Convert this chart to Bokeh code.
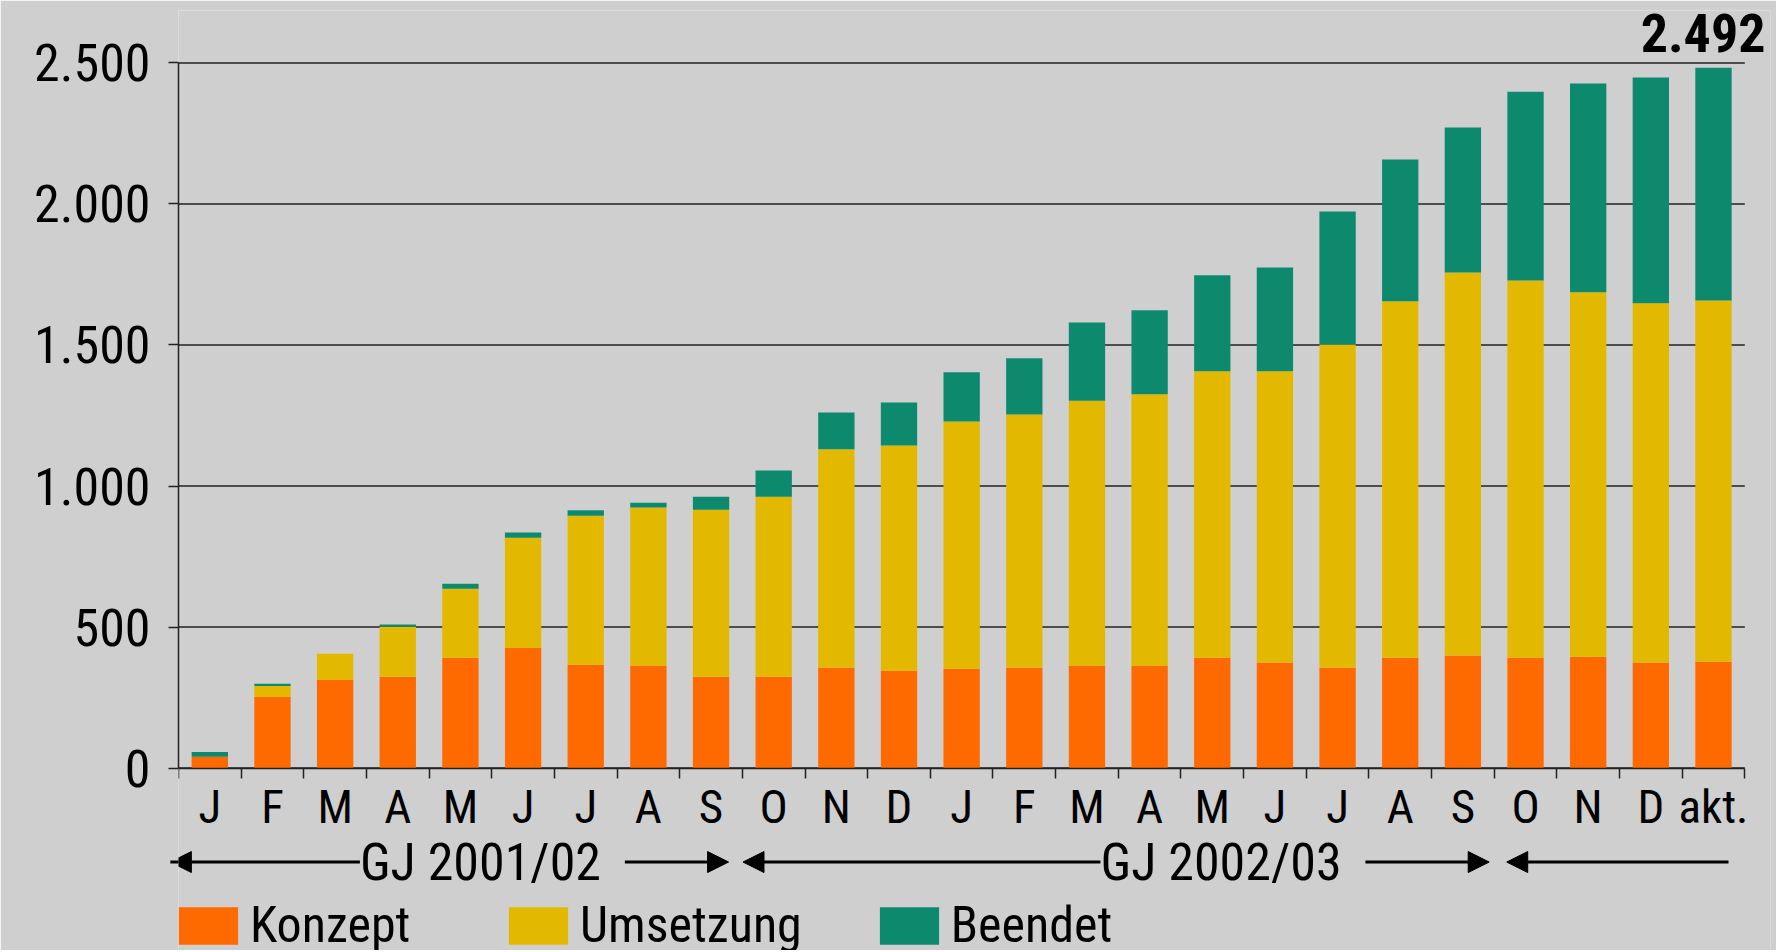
from bokeh.plotting import figure
from bokeh.models import (Range1d, FixedTicker, Label, Arrow, NormalHead,
                          LinearAxis, ColumnDataSource)
from bokeh.embed import file_html
from bokeh.resources import INLINE

# ---------------- data ----------------
months = ["J", "F", "M", "A", "M", "J", "J", "A", "S",
          "O", "N", "D", "J", "F", "M", "A", "M", "J", "J", "A", "S",
          "O", "N", "D", "akt."]
konzept = [40, 252, 312, 324, 391, 426, 366, 362, 324,
           324, 356, 345, 352, 356, 362, 362, 391, 374, 356, 391, 399,
           391, 395, 374, 377]
umsetzung = [0, 39, 93, 177, 245, 391, 529, 562, 592,
             638, 774, 799, 877, 898, 940, 963, 1016, 1033, 1146, 1264, 1358,
             1338, 1292, 1274, 1281]
beendet = [17, 8, 0, 8, 18, 18, 19, 17, 46,
           93, 131, 152, 174, 199, 278, 298, 340, 368, 471, 503, 514,
           669, 740, 800, 825]
series_names = ["Konzept", "Umsetzung", "Beendet"]
current_total_label = "2.492"

y_ticks = [0, 500, 1000, 1500, 2000, 2500]
y_tick_labels = ["0", "500", "1.000", "1.500", "2.000", "2.500"]

# fiscal years: first and last month index (inclusive) + label
fy_first = [0, 9, 21]
fy_last = [8, 20, 24]
fy_labels = ["GJ 2001/02", "GJ 2002/03", ""]

# ---------------- layout / styles ----------------
fy_label_pos = [5.01, 16.83]
fy_pad_start = [-0.13, 0.01, 0.2]
fy_pad_end = [-0.22, -0.08, -0.26]
arrow_y = -333

BG = "#cfcfcf"
COLORS = ["#ff6a00", "#e3b900", "#0d8a6e"]
FONT = "Roboto Condensed, DejaVu Sans Condensed, Liberation Sans Narrow, Arial Narrow, Roboto, sans-serif"
LINE = "#222222"

n = len(months)
xs = [i + 0.5 for i in range(n)]
src = ColumnDataSource(dict(x=xs, Konzept=konzept, Umsetzung=umsetzung, Beendet=beendet))

p = figure(width=1776, height=950,
           x_range=Range1d(0, 25.41), y_range=Range1d(-646.6, 2685.8),
           output_backend="svg", toolbar_location=None,
           x_axis_type=None, y_axis_type=None,
           min_border_left=178, min_border_right=6,
           min_border_top=10, min_border_bottom=0,
           background_fill_color=BG, border_fill_color=BG,
           outline_line_color=None)
p.xgrid.visible = False
p.ygrid.visible = False

# horizontal grid lines across the category span
p.segment(x0=0, x1=n, y0=y_ticks, y1=y_ticks, line_color=LINE,
          line_width=1.5, level="underlay")

# bars
p.vbar_stack(series_names, x="x", width=0.58, source=src,
             fill_color=COLORS, line_color=None,
             legend_label=series_names)

# y axis
yaxis = LinearAxis(ticker=FixedTicker(ticks=y_ticks),
                   major_label_overrides={t: l for t, l in zip(y_ticks, y_tick_labels)},
                   bounds=(0, 2500))
yaxis.axis_line_color = LINE
yaxis.axis_line_width = 1.5
yaxis.major_tick_out = 10
yaxis.major_tick_in = 0
yaxis.major_tick_line_color = LINE
yaxis.major_tick_line_width = 1.5
yaxis.minor_tick_line_color = None
yaxis.major_label_standoff = 18
yaxis.major_label_text_font = FONT
yaxis.major_label_text_font_size = "52px"
yaxis.major_label_text_color = "black"
p.add_layout(yaxis, "left")

# x axis (drawn at value 0 inside the frame)
xaxis = LinearAxis(ticker=FixedTicker(ticks=xs, minor_ticks=list(range(n + 1))),
                   major_label_overrides={x: m for x, m in zip(xs, months)},
                   bounds=(0, n), fixed_location=0)
xaxis.axis_line_color = LINE
xaxis.axis_line_width = 1.5
xaxis.major_tick_out = 0
xaxis.major_tick_in = 0
xaxis.minor_tick_out = 10
xaxis.minor_tick_in = 0
xaxis.minor_tick_line_color = LINE
xaxis.minor_tick_line_width = 1.5
xaxis.major_label_standoff = 1
xaxis.major_label_text_font = FONT
xaxis.major_label_text_font_size = "47px"
xaxis.major_label_text_color = "black"
p.add_layout(xaxis, "below")

# fiscal-year arrows
for i, (a, b, lab) in enumerate(zip(fy_first, fy_last, fy_labels)):
    x0 = a + fy_pad_start[i]
    x1 = b + 1 + fy_pad_end[i]
    head = dict(size=21, fill_color="black", line_color="black")
    arr = Arrow(x_start=x0, y_start=arrow_y, x_end=x1, y_end=arrow_y,
                start=NormalHead(**head),
                end=None if b == n - 1 else NormalHead(**head),
                line_color="black", line_width=3)
    p.add_layout(arr)
    if lab:
        p.add_layout(Label(x=fy_label_pos[i], y=arrow_y, text=" " + lab + " ",
                           text_align="center", text_baseline="middle",
                           text_font=FONT, text_font_size="52px",
                           text_color="black",
                           background_fill_color=BG, padding=0))

# current total label
p.add_layout(Label(x=xs[-1], y=konzept[-1] + umsetzung[-1] + beendet[-1],
                   x_offset=52, y_offset=35, text=current_total_label,
                   text_align="right", text_baseline="alphabetic",
                   text_font=FONT, text_font_size="54px",
                   text_font_style="bold", text_color="black"))

# legend
lg = p.legend[0]
lg.orientation = "horizontal"
lg.location = (-7, -4)
lg.padding = 0
lg.margin = 0
lg.spacing = 70
lg.glyph_width = 74
lg.glyph_height = 47
lg.label_standoff = 5
lg.label_width = 181
lg.label_text_font = FONT
lg.label_text_font_size = "50px"
lg.label_text_color = "black"
lg.border_line_color = None
lg.background_fill_alpha = 0

open("out.html", "w").write(file_html(p, INLINE))
